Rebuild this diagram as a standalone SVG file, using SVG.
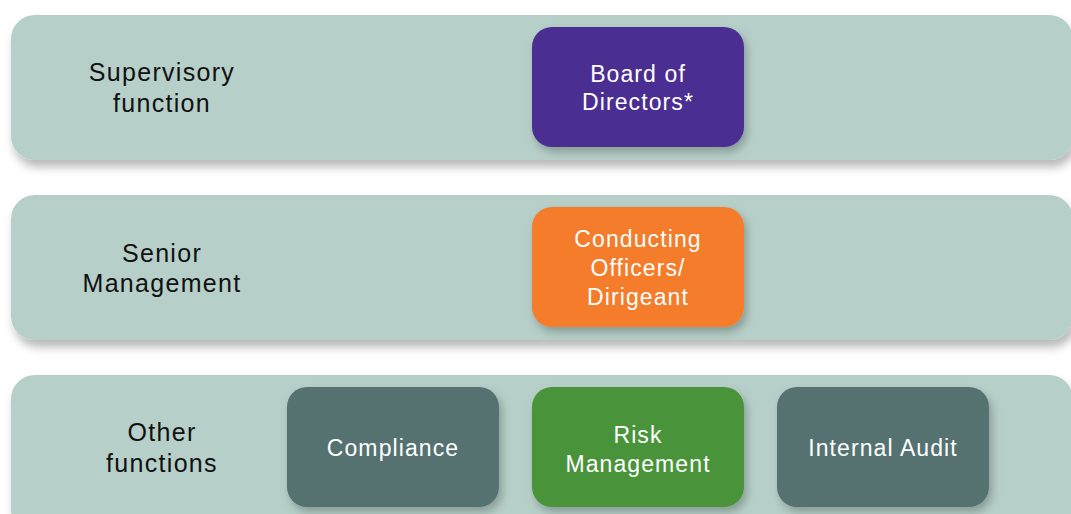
<svg xmlns="http://www.w3.org/2000/svg" width="1071" height="514" viewBox="0 0 1071 514">
<defs>
<filter id="sh" x="-10%" y="-20%" width="130%" height="150%">
<feDropShadow dx="3" dy="7" stdDeviation="5" flood-color="#000" flood-opacity="0.28"/>
</filter>
<filter id="sh2" x="-10%" y="-20%" width="130%" height="150%">
<feDropShadow dx="3" dy="5" stdDeviation="4" flood-color="#000" flood-opacity="0.25"/>
</filter>
</defs>
<style>
.band{fill:#B6CFC8;filter:url(#sh)}
.box{filter:url(#sh2)}
.lbl{font-family:"Liberation Sans",Arial,sans-serif;font-size:25px;fill:#111;text-anchor:middle;letter-spacing:1.3px}
.wt{font-family:"Liberation Sans",Arial,sans-serif;font-size:23px;fill:#fff;text-anchor:middle;letter-spacing:1.1px}
</style>
<rect width="1071" height="514" fill="#fff"/>
<g id="band-supervisory">
<rect class="band" x="11" y="15" width="1062" height="145" rx="24"/>
<text class="lbl" x="162" y="81">Supervisory</text>
<text class="lbl" x="162" y="112">function</text>
</g>
<g id="band-senior">
<rect class="band" x="11" y="195" width="1062" height="145" rx="24"/>
<text class="lbl" x="162" y="262">Senior</text>
<text class="lbl" x="162" y="292">Management</text>
</g>
<g id="band-other">
<rect class="band" x="11" y="375" width="1062" height="160" rx="24"/>
<text class="lbl" x="162" y="441">Other</text>
<text class="lbl" x="162" y="472">functions</text>
</g>
<g id="board">
<rect class="box" x="532" y="27" width="212" height="120" rx="20" fill="#4B2F91"/>
<text class="wt" x="638" y="82">Board of</text>
<text class="wt" x="638" y="110">Directors*</text>
</g>
<g id="conducting">
<rect class="box" x="532" y="207" width="212" height="120" rx="20" fill="#F47B2C"/>
<text class="wt" x="638" y="247">Conducting</text>
<text class="wt" x="638" y="276">Officers/</text>
<text class="wt" x="638" y="305">Dirigeant</text>
</g>
<g id="compliance">
<rect class="box" x="287" y="387" width="212" height="120" rx="20" fill="#547271"/>
<text class="wt" x="393" y="456">Compliance</text>
</g>
<g id="risk">
<rect class="box" x="532" y="387" width="212" height="120" rx="20" fill="#4A943A"/>
<text class="wt" x="638" y="443">Risk</text>
<text class="wt" x="638" y="472">Management</text>
</g>
<g id="audit">
<rect class="box" x="777" y="387" width="212" height="120" rx="20" fill="#547271"/>
<text class="wt" x="883" y="456">Internal Audit</text>
</g>
<g id="connectors"></g>
</svg>
